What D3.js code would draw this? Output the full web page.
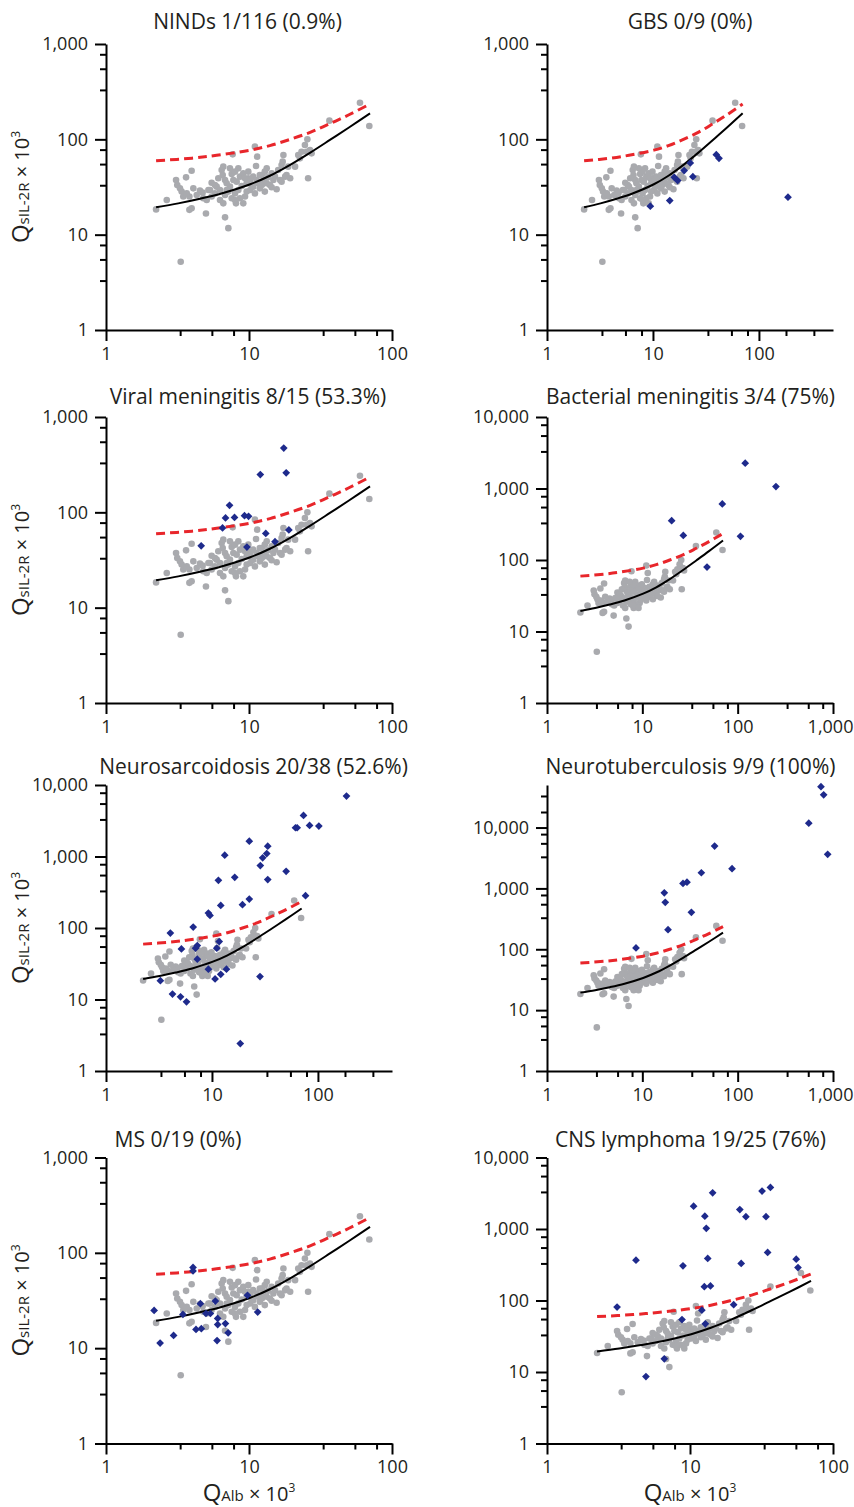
<!DOCTYPE html>
<html>
<head>
<meta charset="utf-8">
<script src="https://cdn.jsdelivr.net/npm/d3@7"></script>
<style>
    body { margin: 0; background: #fff; }
    svg text { font-family: "Open Sans", sans-serif; fill: #231f20; }
</style>
</head>
<body>
<div id="chart"></div>
<script>
//Datos
const titles = ['NINDs 1/116 (0.9%)', 'GBS 0/9 (0%)', 'Viral meningitis 8/15 (53.3%)', 'Bacterial meningitis 3/4 (75%)',
    'Neurosarcoidosis 20/38 (52.6%)', 'Neurotuberculosis 9/9 (100%)', 'MS 0/19 (0%)', 'CNS lymphoma 19/25 (76%)'];

//Limites de los ejes (log)
const xMax = [100, 500, 100, 1000, 500, 1000, 100, 100];
const yMax = [1000, 1000, 1000, 10000, 10000, 50000, 1000, 10000];
const majorTicks = [1, 10, 100, 1000, 10000];

//NINDs (puntos grises, iguales en todos los paneles)
const nindQAlb = [2.24, 2.66, 3.09, 3.15, 3.63, 3.97, 3.38, 3.47, 3.83, 3.97, 3.83, 4.54, 4.74, 5.0, 5.06, 5.48, 5.48, 5.94, 6.27, 6.27,
    6.44, 6.61, 6.55, 6.8, 6.8, 6.8, 7.17, 7.36, 7.57, 7.69, 7.77, 7.98, 8.11, 8.42, 8.65, 8.89, 9.12, 9.38, 9.63, 9.89,
    10.2, 10.4, 10.7, 11.0, 11.2, 11.4, 11.6, 11.9, 12.3, 12.6, 12.9, 13.3, 13.6, 14.0, 14.4, 14.8, 15.6, 16.0, 16.5, 16.9,
    17.4, 17.9, 18.3, 17.2, 22.1, 23.3, 24.6, 25.6, 25.9, 27.4, 36.5, 59.7, 69.4, 3.33, 6.1, 6.98, 7.17, 7.57, 8.2, 8.42,
    8.65, 9.38, 9.63, 10.2, 10.7, 11.0, 11.3, 12.3, 13.3, 14.4, 6.98, 5.78, 5.34, 4.79, 4.31, 4.08, 3.67, 3.29, 7.98, 7.36,
    9.89, 12.9, 15.2, 16.9, 19.4, 21.0, 18.8, 7.98, 6.61, 9.12, 5.78, 5.2, 11.9, 22.7, 26.7, 25.3];
const nindQsIL = [18.4, 23.1, 37.4, 33.2, 39.9, 46.9, 28.3, 25.1, 25.1, 18.9, 18.2, 29.0, 27.6, 16.7, 23.1, 35.1, 25.1, 31.9, 29.4, 23.1,
    47.7, 51.7, 42.3, 37.4, 26.1, 15.2, 11.7, 31.9, 43.3, 69.6, 37.4, 27.1, 21.3, 49.6, 40.6, 32.4, 44.0, 25.1, 34.6, 39.0,
    29.4, 33.2, 40.6, 83.8, 52.5, 65.8, 34.6, 30.6, 42.3, 37.4, 28.3, 49.6, 39.9, 33.2, 44.0, 37.4, 29.9, 47.7, 37.4, 53.8,
    68.5, 40.6, 42.3, 58.3, 68.5, 74.2, 87.3, 100, 39.0, 71.3, 157, 242, 138, 5.2, 39.0, 34.6, 28.3, 24.1, 36.0, 29.4,
    24.1, 39.0, 28.3, 36.0, 31.9, 27.1, 37.4, 33.2, 34.6, 31.4, 29.4, 27.1, 29.4, 24.1, 26.1, 30.6, 27.1, 30.6, 45.8, 49.6,
    45.8, 45.8, 40.6, 36.0, 39.0, 51.7, 51.7, 23.1, 21.3, 21.3, 33.2, 29.4, 42.3, 63.2, 77.3, 74.2];

//Curvas de referencia
const meanQAlb = [2.24, 3.2, 4.54, 6.5, 10.2, 14, 19.4, 27, 36.8, 50, 70.2];
const meanQsIL = [19.4, 21.3, 23.8, 27.2, 33.8, 41.5, 54, 73, 98.5, 133, 187.5];
const upperQAlb = [2.24, 4, 5.94, 10.2, 14, 19.4, 27, 36.8, 50, 70.2];
const upperQsIL = [59.5, 63.5, 68, 77, 86, 100, 119, 146, 181, 235];

//Pacientes (rombos azules) [QAlb, QsIL-2R]
const gbs = [[9.44, 19.9], [14.4, 22.8], [15.9, 40], [17.1, 36.9], [19.7, 47], [22.5, 56.5], [23.8, 40.6], [39.6, 69.1], [42, 63.3], [188, 24.7]];
const viral = [[4.63, 44.6], [6.53, 68.5], [6.85, 87.3], [7.31, 118.5], [7.92, 88.5], [9.3, 92.3], [9.93, 90.8], [9.67, 43.2],
    [12.0, 249], [13.1, 60.1], [15.2, 49.2], [17.5, 472], [18.2, 260], [19.0, 65.3]];
const bacterial = [[20.3, 355], [26.9, 221], [47.7, 79.5], [69, 609], [107, 214], [120, 2260], [252, 1065]];
const sarcoid = [[3.26, 18.3], [4.05, 84.8], [4.24, 11.9], [5.15, 51], [5.05, 10.9], [5.75, 9.3], [6.65, 103], [7.0, 52.2], [7.27, 56.8],
    [7.27, 36.6], [9.25, 26.5], [9.25, 162], [9.58, 150], [10.7, 19.4], [11.1, 52.2], [11.7, 64.7], [11.5, 464], [12.1, 207],
    [12.1, 22.5], [13.2, 1042], [13.7, 26.5], [16.4, 512], [19.4, 212], [18.5, 2.42], [22.5, 1637], [22.5, 254], [28.6, 746],
    [30.1, 957], [32.9, 1100], [33.6, 1393], [33.6, 475], [28.4, 20.9], [50.1, 621], [61.4, 2524], [63.7, 2524], [73.1, 3756],
    [76.4, 283], [83.4, 2718], [102, 2660], [186, 7010]];
const tuberculosis = [[8.58, 105], [17.0, 846], [17.4, 592], [18.6, 210], [26.7, 1205], [29.4, 1266], [32.7, 405], [41.6, 1808],
    [57.3, 4970], [87.3, 2105], [557, 11770], [748, 46800], [798, 34500], [879, 3625]];
const ms = [[2.17, 24.9], [2.39, 11.3], [2.97, 13.6], [3.45, 22.6], [4.06, 70.2], [4.06, 64.6], [4.26, 15.7], [4.57, 29.3], [4.64, 16.0],
    [5.0, 23.1], [5.37, 23.1], [5.82, 31.2], [6.04, 20.5], [6.04, 17.7], [5.98, 12.0], [6.84, 18.1], [7.15, 14.5], [9.76, 35.8], [11.5, 23.9]];
const lymphoma = [[3.09, 80.8], [4.19, 366], [4.92, 8.64], [6.61, 15.3], [8.79, 54.2], [8.93, 305], [10.6, 2085], [12.1, 73.3],
    [12.6, 156], [12.7, 1509], [13.0, 1023], [13.3, 387], [13.9, 160], [12.8, 47.2], [14.4, 3208], [20.2, 87.3], [22.3, 1869],
    [22.8, 330], [24.6, 1489], [31.9, 3390], [34.0, 1489], [34.9, 470], [36.5, 3810], [55.3, 378], [56.9, 289]];
const patients = [[], gbs, viral, bacterial, sarcoid, tuberculosis, ms, lymphoma];

//Colores fijos
const COLOR_NIND = '#a9aaae',
COLOR_PAT = '#1e2a8c',
COLOR_UPPER = '#e8262b';

//Layout
const colLeft = [106, 547];
const rowBottom = [330, 703, 1071, 1443.5];
const plotSize = 286;
const titleX = [247.5, 690, 248, 690.5, 253.5, 690.5, 178, 690.5];
const titleY = [28.5, 28.5, 403.5, 403.5, 773.5, 774, 1147, 1147];
const minorSteps = [3.3, 5.5, 7.8];
const partialSteps = [1.8, 3.3];

function minorTicks(max) {
    let out = [];
    for (let d = 1; d < max; d *= 10) {
        let steps = d * 10 <= max ? minorSteps : partialSteps;
        steps.forEach(function(m) { if (d * m < max) out.push(d * m); });
    }
    return out;
}

let svg = d3.select('#chart')
    .append('svg')
        .attr('width', 854)
        .attr('height', 1507);

titles.forEach(function(title, i) {
    let left = colLeft[i % 2],
        bottom = rowBottom[Math.floor(i / 2)];

    let x = d3.scaleLog()
        .domain([1, xMax[i]])
        .range([left, left + plotSize]);

    let y = d3.scaleLog()
        .domain([1, yMax[i]])
        .range([bottom, bottom - plotSize]);

    let g = svg.append('g');

    //Puntos grises
    g.append('g')
        .selectAll('circle')
        .data(d3.zip(nindQAlb, nindQsIL))
        .enter()
        .append('circle')
        .attr('cx', function(d) { return x(d[0]); })
        .attr('cy', function(d) { return y(d[1]); })
        .attr('r', 3.3)
        .attr('fill', COLOR_NIND);

    //Curvas
    let line = d3.line()
        .x(function(d) { return x(d[0]); })
        .y(function(d) { return y(d[1]); })
        .curve(d3.curveCatmullRom);

    g.append('path')
        .datum(d3.zip(meanQAlb, meanQsIL))
        .attr('d', line)
        .attr('fill', 'none')
        .attr('stroke', '#000')
        .attr('stroke-width', 2);

    g.append('path')
        .datum(d3.zip(upperQAlb, upperQsIL))
        .attr('d', line)
        .attr('fill', 'none')
        .attr('stroke', COLOR_UPPER)
        .attr('stroke-width', 3)
        .attr('stroke-dasharray', '9,5');

    //Rombos
    g.append('g')
        .selectAll('path')
        .data(patients[i])
        .enter()
        .append('path')
        .attr('transform', function(d) { return 'translate(' + x(d[0]) + ',' + y(d[1]) + ') rotate(45)'; })
        .attr('d', d3.symbol().type(d3.symbolSquare).size(30))
        .attr('fill', COLOR_PAT);

    //Ejes
    let xMaj = majorTicks.filter(function(v) { return v <= xMax[i]; });
    let yMaj = majorTicks.filter(function(v) { return v <= yMax[i]; });

    let styleAxis = function(a) {
        a.selectAll('path, line').attr('stroke', '#000').attr('stroke-width', 2);
        a.selectAll('text').style('font-size', '18px').attr('fill', '#231f20');
    };

    g.append('g')
        .attr('transform', 'translate(0,' + bottom + ')')
        .call(d3.axisBottom(x).tickValues(minorTicks(xMax[i])).tickSize(6).tickFormat(''))
        .call(function(a) { a.select('.domain').remove(); })
        .call(styleAxis);

    g.append('g')
        .attr('transform', 'translate(' + left + ',0)')
        .call(d3.axisLeft(y).tickValues(minorTicks(yMax[i])).tickSize(6).tickFormat(''))
        .call(function(a) { a.select('.domain').remove(); })
        .call(styleAxis);

    g.append('g')
        .attr('transform', 'translate(0,' + bottom + ')')
        .call(d3.axisBottom(x).tickValues(xMaj).tickSize(11).tickSizeOuter(0).tickPadding(6).tickFormat(d3.format(',')))
        .call(styleAxis)
        .call(function(a) {
            //ultima etiqueta pegada al borde
            a.selectAll('.tick text').filter(function(d) { return d >= 1000; }).attr('dx', -3);
        });

    g.append('g')
        .attr('transform', 'translate(' + left + ',0)')
        .call(d3.axisLeft(y).tickValues(yMaj).tickSize(11).tickSizeOuter(0).tickPadding(7).tickFormat(d3.format(',')))
        .call(styleAxis);

    //Titulo
    g.append('text')
        .attr('x', titleX[i])
        .attr('y', titleY[i])
        .attr('text-anchor', 'middle')
        .style('font-size', '21px')
        .text(title);

    //Titulo eje Y (columna izquierda)
    if (i % 2 == 0) {
        let t = g.append('text')
            .attr('transform', 'translate(29,' + (bottom - plotSize / 2) + ') rotate(-90)')
            .attr('text-anchor', 'middle');
        t.append('tspan').style('font-size', '24px').text('Q');
        t.append('tspan').style('font-size', '15px').text('sIL-2R');
        t.append('tspan').style('font-size', '20px').text(' × 10');
        t.append('tspan').style('font-size', '12px').attr('dy', -9).text('3');
    }

    //Titulo eje X (ultima fila)
    if (i >= 6) {
        let t = g.append('text')
            .attr('x', left + plotSize / 2)
            .attr('y', 1501)
            .attr('text-anchor', 'middle');
        t.append('tspan').style('font-size', '24px').text('Q');
        t.append('tspan').style('font-size', '15px').text('Alb');
        t.append('tspan').style('font-size', '20px').text(' × 10');
        t.append('tspan').style('font-size', '12px').attr('dy', -9).text('3');
    }
});
</script>
</body>
</html>
